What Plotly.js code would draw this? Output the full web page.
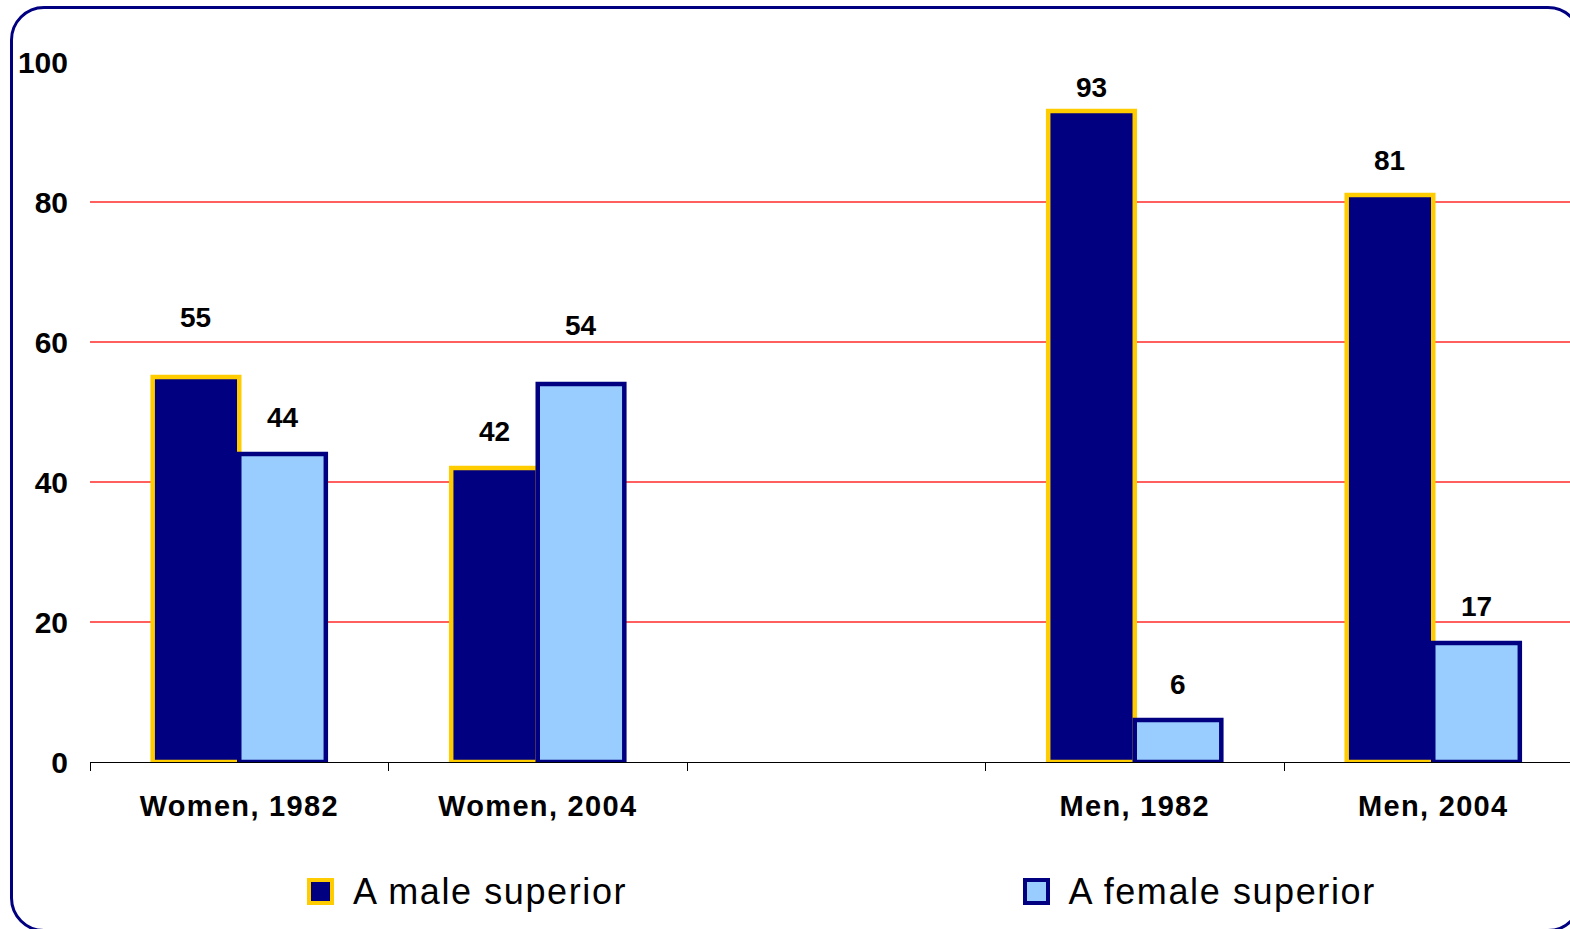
<!DOCTYPE html>
<html>
<head>
<meta charset="utf-8">
<script src="https://cdn.plot.ly/plotly-3.0.1.min.js"></script>
<style>
  html, body { margin: 0; padding: 0; background: #ffffff; overflow: hidden; }
  #wrap { position: relative; width: 1570px; height: 929px; overflow: hidden; }
  #chart { position: absolute; left: 0; top: 0; width: 1570px; height: 929px; }
  #frame {
    position: absolute; left: 10px; top: 6px; width: 1566px; height: 920px;
    border: 3.5px solid #000080; border-radius: 34px; pointer-events: none;
  }
  #chart .xtick text { letter-spacing: 1.3px; }
</style>
</head>
<body>
<div id="wrap">
  <div id="chart"></div>
  <div id="frame"></div>
</div>
<script>
// Who people would prefer as a boss, by sex of respondent and survey year (%)
const categories = ['Women, 1982', 'Women, 2004', ' ', 'Men, 1982', 'Men, 2004'];
const seriesNames = ['A male superior', 'A female superior'];
const maleSuperior = [55, 42, null, 93, 81];
const femaleSuperior = [44, 54, null, 6, 17];
const yTicks = [0, 20, 40, 60, 80, 100];
const gridValues = [20, 40, 60, 80];

// Styling / placement
const NAVY = '#000080';
const GOLD = '#FFCC00';
const LIGHT = '#99CCFF';
const FONT = 'Liberation Sans, Arial, sans-serif';
const W = 1570, H = 929;
const M = { l: 90, r: 0, t: 62, b: 167 };
const catPx = 298.5;                     // width of one category slot
const bargap = 0.42;
const plotW = W - M.l - M.r, plotH = H - M.t - M.b;
const barHalfShift = catPx * (1 - bargap) / 4;   // offset of each bar centre from slot centre
// vertical distance (px) from bar top to the centre of its value label
const liftMale = [60, 37, 0, 24, 35];
const liftFemale = [37, 59, 0, 36, 37];

const px2x = p => (p - M.l) / plotW;
const px2y = p => (H - M.b - p) / plotH;

const traces = [
  {
    type: 'bar', name: seriesNames[0], x: categories, y: maleSuperior,
    marker: { color: NAVY, line: { color: GOLD, width: 4.5 } },
    hoverinfo: 'none'
  },
  {
    type: 'bar', name: seriesNames[1], x: categories, y: femaleSuperior,
    marker: { color: LIGHT, line: { color: NAVY, width: 4.5 } },
    hoverinfo: 'none'
  }
];

const annotations = [];
categories.forEach((c, i) => {
  [[maleSuperior, liftMale, -1], [femaleSuperior, liftFemale, 1]].forEach(([vals, lift, side]) => {
    const v = vals[i];
    if (v === null) return;
    annotations.push({
      x: c, y: v, xref: 'x', yref: 'y', text: String(v), showarrow: false,
      xshift: side * barHalfShift, yshift: lift[i], yanchor: 'middle', xanchor: 'center',
      font: { family: FONT, size: 28, color: '#000000', weight: 'bold' }
    });
  });
});
const firstLegendAnn = annotations.length;

// Legend drawn as boxes + labels under the axis
const legendTracking = 1.6;
const legendItems = [
  { name: seriesNames[0], fill: NAVY, edge: GOLD, boxLeft: 309, textLeft: 351 },
  { name: seriesNames[1], fill: LIGHT, edge: NAVY, boxLeft: 1025, textLeft: 1066 }
];
const legendY = 891.5, box = 23;
const shapes = [];
gridValues.forEach(g => shapes.push({
  type: 'line', xref: 'paper', yref: 'y', x0: 0, x1: 1, y0: g, y1: g,
  line: { color: '#ff2a2a', width: 1.4 }, layer: 'below'
}));
legendItems.forEach(it => {
  shapes.push({
    type: 'rect', xref: 'paper', yref: 'paper',
    x0: px2x(it.boxLeft), x1: px2x(it.boxLeft + box),
    y0: px2y(legendY + box / 2), y1: px2y(legendY - box / 2),
    fillcolor: it.fill, line: { color: it.edge, width: 4 }, layer: 'above'
  });
  // the label is centre-anchored internally, so compensate for the added tracking
  const extra = legendTracking * it.name.length / 2;
  annotations.push({
    xref: 'paper', yref: 'paper', x: px2x(it.textLeft + extra), y: px2y(legendY),
    xanchor: 'left', yanchor: 'middle', showarrow: false, text: it.name,
    font: { family: FONT, size: 36, color: '#000000' }
  });
});

// wider tracking for the legend labels
const st = document.createElement('style');
st.textContent = [firstLegendAnn, firstLegendAnn + 1]
  .map(i => `#chart .annotation[data-index="${i}"] text { letter-spacing: ${legendTracking}px; }`).join('\n');
document.head.appendChild(st);

const layout = {
  width: W, height: H,
  margin: M,
  paper_bgcolor: '#ffffff', plot_bgcolor: '#ffffff',
  barmode: 'group', bargap: bargap, bargroupgap: 0,
  showlegend: false,
  font: { family: FONT, color: '#000000' },
  xaxis: {
    type: 'category', categoryorder: 'array', categoryarray: categories,
    range: [-0.5, -0.5 + plotW / catPx],
    tickson: 'boundaries', ticks: 'outside', ticklen: 8, tickwidth: 1, tickcolor: '#000000',
    showline: true, linecolor: '#000000', linewidth: 1,
    showgrid: false, zeroline: false, ticklabelstandoff: 18,
    tickfont: { family: FONT, size: 29, color: '#000000', weight: 'bold' },
    fixedrange: true
  },
  yaxis: {
    range: [0, 100], tickvals: yTicks, ticktext: yTicks.map(String),
    showgrid: false, zeroline: false, showline: false, ticks: '',
    ticklabelstandoff: 21,
    tickfont: { family: FONT, size: 30, color: '#000000', weight: 'bold' },
    fixedrange: true
  },
  shapes: shapes,
  annotations: annotations
};

Plotly.newPlot('chart', traces, layout, { displayModeBar: false, staticPlot: true });
</script>
</body>
</html>
